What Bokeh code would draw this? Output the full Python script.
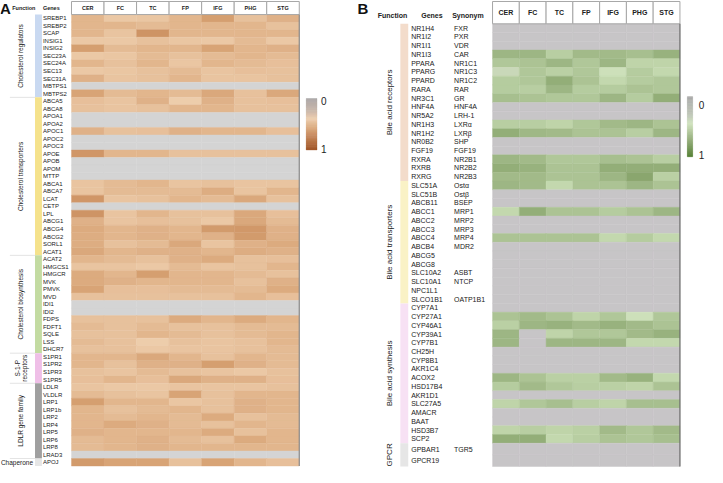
import numpy as np
from bokeh.plotting import figure
from bokeh.models import Range1d, ColumnDataSource, LinearColorMapper
from bokeh.transform import transform
from bokeh.core.properties import value
from bokeh.embed import file_html
from bokeh.resources import INLINE

NA = float("nan")
tissues = ["CER", "FC", "TC", "FP", "IFG", "PHG", "STG"]

# ---------------- Panel A data ----------------
A_group_names = ["Cholesterol regulators", "Cholesterol transporters", "Cholesterol biosynthesis",
                 "S-1-P\nreceptors", "LDLR gene family", "Chaperone"]
A_group_sizes = [11, 21, 13, 4, 10, 1]
A_group_colors = ["#c9d9f1", "#f5e28c", "#c3dba2", "#efbfe7", "#9f9f9f", "#e6e6e6"]
A_genes = ["SREBP1", "SREBP2", "SCAP", "INSIG1", "INSIG2", "SEC23A", "SEC24A", "SEC13", "SEC31A", "MBTPS1", "MBTPS2",
           "ABCA5", "ABCA8", "APOA1", "APOA2", "APOC1", "APOC2", "APOC3", "APOE", "APOB", "APOM", "MTTP",
           "ABCA1", "ABCA7", "LCAT", "CETP", "LPL", "ABCG1", "ABCG4", "ABCG2", "SORL1", "ACAT1",
           "ACAT2", "HMGCS1", "HMGCR", "MVK", "PMVK", "MVD", "IDI1", "IDI2", "FDPS", "FDFT1", "SQLE", "LSS", "DHCR7",
           "S1PR1", "S1PR2", "S1PR3", "S1PR5",
           "LDLR", "VLDLR", "LRP1", "LRP1b", "LRP2", "LRP4", "LRP5", "LRP6", "LRP8", "LRAD3",
           "APOJ"]
N7 = [NA] * 7
A_values = [
    [0.50, 0.42, 0.43, 0.50, 0.60, 0.45, 0.52],
    [0.50, 0.50, 0.48, 0.50, 0.50, 0.50, 0.45],
    [0.50, 0.44, 0.65, 0.50, 0.50, 0.50, 0.50],
    [0.42, 0.42, 0.45, 0.43, 0.42, 0.48, 0.42],
    [0.60, 0.48, 0.50, 0.50, 0.58, 0.50, 0.52],
    [0.42, 0.43, 0.48, 0.45, 0.48, 0.50, 0.48],
    [0.50, 0.45, 0.50, 0.43, 0.50, 0.48, 0.46],
    [0.42, 0.43, 0.45, 0.48, 0.44, 0.46, 0.45],
    [0.52, 0.44, 0.45, 0.50, 0.44, 0.44, 0.45],
    N7,
    [0.58, 0.48, 0.50, 0.48, 0.56, 0.45, 0.56],
    [0.46, 0.44, 0.52, 0.40, 0.52, 0.45, 0.46],
    [0.45, 0.44, 0.45, 0.50, 0.50, 0.45, 0.45],
    N7, N7,
    [0.52, 0.45, 0.46, 0.52, 0.50, 0.50, 0.46],
    N7, N7,
    [0.64, 0.50, 0.50, 0.45, 0.45, 0.45, 0.45],
    N7, N7, N7,
    [0.44, 0.48, 0.50, 0.44, 0.45, 0.44, 0.44],
    [0.44, 0.48, 0.48, 0.48, 0.54, 0.44, 0.50],
    [0.64, 0.44, 0.45, 0.50, 0.48, 0.56, 0.45],
    N7,
    [0.65, 0.44, 0.50, 0.45, 0.45, 0.56, 0.46],
    [0.52, 0.44, 0.46, 0.45, 0.42, 0.56, 0.48],
    [0.55, 0.50, 0.52, 0.50, 0.62, 0.63, 0.52],
    [0.54, 0.50, 0.52, 0.50, 0.52, 0.62, 0.52],
    [0.54, 0.45, 0.48, 0.56, 0.44, 0.52, 0.55],
    [0.56, 0.50, 0.52, 0.52, 0.50, 0.54, 0.52],
    [0.50, 0.48, 0.45, 0.52, 0.55, 0.45, 0.46],
    [0.44, 0.44, 0.42, 0.48, 0.44, 0.45, 0.50],
    [0.55, 0.50, 0.60, 0.50, 0.50, 0.48, 0.45],
    [0.55, 0.52, 0.50, 0.50, 0.50, 0.45, 0.52],
    [0.58, 0.46, 0.46, 0.48, 0.48, 0.48, 0.55],
    [0.45, 0.45, 0.45, 0.45, 0.45, 0.50, 0.46],
    N7, N7,
    [0.45, 0.45, 0.45, 0.55, 0.50, 0.55, 0.50],
    [0.48, 0.45, 0.48, 0.45, 0.45, 0.48, 0.48],
    [0.45, 0.45, 0.50, 0.48, 0.45, 0.48, 0.50],
    [0.48, 0.45, 0.40, 0.45, 0.44, 0.45, 0.50],
    [0.45, 0.45, 0.42, 0.44, 0.44, 0.45, 0.48],
    [0.50, 0.50, 0.56, 0.50, 0.45, 0.50, 0.48],
    [0.50, 0.45, 0.52, 0.52, 0.60, 0.52, 0.48],
    [0.45, 0.44, 0.48, 0.45, 0.44, 0.42, 0.45],
    [0.46, 0.50, 0.46, 0.56, 0.52, 0.52, 0.46],
    [0.44, 0.42, 0.42, 0.44, 0.44, 0.44, 0.45],
    [0.48, 0.45, 0.44, 0.58, 0.45, 0.50, 0.50],
    [0.60, 0.50, 0.50, 0.43, 0.45, 0.52, 0.50],
    [0.50, 0.45, 0.48, 0.50, 0.45, 0.52, 0.50],
    [0.50, 0.48, 0.50, 0.48, 0.55, 0.45, 0.48],
    [0.50, 0.55, 0.52, 0.48, 0.45, 0.50, 0.48],
    [0.52, 0.50, 0.50, 0.50, 0.55, 0.45, 0.50],
    [0.48, 0.50, 0.52, 0.48, 0.45, 0.55, 0.50],
    [0.48, 0.50, 0.52, 0.50, 0.50, 0.50, 0.50],
    N7,
    [0.62, 0.58, 0.58, 0.45, 0.58, 0.50, 0.46],
]

# ---------------- Panel B data ----------------
B_group_names = ["Bile acid receptors", "Bile acid transporters", "Bile acid synthesis", "GPCR"]
B_group_sizes = [18, 14, 16, 2]
B_group_colors = ["#f3dccb", "#faf2c6", "#f7e1f4", "#e6e6e6"]
B_genes = ["NR1H4", "NR1I2", "NR1I1", "NR1I3", "PPARA", "PPARG", "PPARD", "RARA", "NR3C1", "HNF4A", "NR5A2",
           "NR1H3", "NR1H2", "NR0B2", "FGF19", "RXRA", "RXRB", "RXRG",
           "SLC51A", "SLC51B", "ABCB11", "ABCC1", "ABCC2", "ABCC3", "ABCC4", "ABCB4", "ABCG5", "ABCG8",
           "SLC10A2", "SLC10A1", "NPC1L1", "SLCO1B1",
           "CYP7A1", "CYP27A1", "CYP46A1", "CYP39A1", "CYP7B1", "CH25H", "CYP8B1", "AKR1C4", "ACOX2", "HSD17B4",
           "AKR1D1", "SLC27A5", "AMACR", "BAAT", "HSD3B7", "SCP2",
           "GPBAR1", "GPCR19"]
B_synonyms = ["FXR", "PXR", "VDR", "CAR", "NR1C1", "NR1C3", "NR1C2", "RAR", "GR", "HNF4A", "LRH-1",
              "LXRα", "LXRβ", "SHP", "FGF19", "NR2B1", "NR2B2", "NR2B3",
              "Ostα", "Ostβ", "BSEP", "MRP1", "MRP2", "MRP3", "MRP4", "MDR2", "", "",
              "ASBT", "NTCP", "", "OATP1B1",
              "", "", "", "", "", "", "", "", "", "", "", "", "", "", "", "",
              "TGR5", ""]
B_values = [
    N7, N7, N7,
    [0.66, 0.66, 0.55, 0.64, 0.64, 0.62, 0.68],
    [0.58, 0.60, 0.66, 0.58, 0.66, 0.52, 0.52],
    [0.40, 0.58, 0.54, 0.58, 0.46, 0.56, 0.50],
    [0.56, 0.58, 0.70, 0.60, 0.50, 0.56, 0.58],
    [0.56, 0.55, 0.66, 0.56, 0.56, 0.60, 0.58],
    [0.62, 0.60, 0.58, 0.58, 0.66, 0.56, 0.70],
    N7, N7,
    [0.55, 0.55, 0.52, 0.58, 0.64, 0.66, 0.60],
    [0.70, 0.65, 0.64, 0.60, 0.60, 0.55, 0.66],
    N7, N7,
    [0.66, 0.64, 0.58, 0.58, 0.62, 0.60, 0.55],
    [0.70, 0.68, 0.60, 0.60, 0.70, 0.70, 0.70],
    [0.64, 0.64, 0.60, 0.60, 0.66, 0.74, 0.54],
    [0.66, 0.64, 0.50, 0.60, 0.60, 0.66, 0.60],
    N7, N7,
    [0.50, 0.70, 0.60, 0.60, 0.56, 0.60, 0.66],
    N7, N7,
    [0.60, 0.60, 0.60, 0.60, 0.50, 0.56, 0.50],
    N7, N7, N7, N7, N7, N7, N7,
    N7,
    [0.60, 0.64, 0.60, 0.52, 0.58, 0.46, 0.58],
    [0.54, 0.66, 0.68, 0.64, 0.68, 0.64, 0.60],
    [0.66, NA, 0.52, 0.58, 0.58, 0.64, 0.68],
    [0.66, NA, 0.66, 0.66, 0.66, 0.50, 0.50],
    N7, N7, N7,
    [0.66, 0.60, 0.54, 0.54, 0.64, 0.68, 0.50],
    [0.56, 0.64, 0.58, 0.55, 0.54, 0.52, 0.60],
    N7,
    [0.52, 0.58, 0.62, 0.55, 0.52, 0.62, 0.62],
    N7, N7,
    [0.52, 0.55, 0.52, 0.54, 0.64, 0.58, 0.64],
    [0.70, 0.70, 0.50, 0.55, 0.60, 0.58, 0.62],
    N7, N7,
]


def make_palette(stops, n=256):
    out = []
    for k in range(n):
        t = k / (n - 1)
        for (t0, c0), (t1, c1) in zip(stops[:-1], stops[1:]):
            if t0 <= t <= t1:
                f = (t - t0) / (t1 - t0) if t1 > t0 else 0
                a = [int(c0[i:i + 2], 16) for i in (1, 3, 5)]
                b = [int(c1[i:i + 2], 16) for i in (1, 3, 5)]
                out.append("#%02x%02x%02x" % tuple(round(a[i] + (b[i] - a[i]) * f) for i in range(3)))
                break
    return out


pal_A = make_palette([(0.0, "#a7a3a3"), (0.25, "#c9b5a6"), (0.40, "#edcdab"), (0.50, "#e2b68e"),
                      (0.60, "#d59f70"), (0.70, "#c8895a"), (1.0, "#9a4a18")])
pal_B = make_palette([(0.0, "#a8a8a8"), (0.30, "#bcc4b4"), (0.45, "#cfe2bc"), (0.55, "#b8cea2"),
                      (0.65, "#9fb886"), (0.75, "#88a46c"), (1.0, "#4a7828")])
map_A = LinearColorMapper(palette=pal_A, low=0, high=1, nan_color="#d4d4d4")
map_B = LinearColorMapper(palette=pal_B, low=0, high=1, nan_color="#c7c5c7")

FONT = value("Liberation Sans")

p = figure(width=707, height=467, x_range=Range1d(3, 720), y_range=Range1d(482, 1),
           x_axis_location=None, y_axis_location=None, output_backend="svg",
           toolbar_location=None, min_border=0, outline_line_color=None)
p.grid.visible = False


def draw_panel(genes, vals, gnames, gsizes, gcolors, row_h, x0, cw, y0, head_top,
               bar_x, bar_w, gene_x, gene_fs, head_fs, grp_x, grp_fs, synonyms=None, syn_x=None,
               mapper=None, border_color="#888888", sep=False):
    # row edges (per group row heights)
    edges = [y0]
    for gi, s in enumerate(gsizes):
        for _ in range(s):
            edges.append(edges[-1] + row_h[gi])
    edges = np.array(edges)
    centers = (edges[:-1] + edges[1:]) / 2
    heights = edges[1:] - edges[:-1]
    xs, ys, ws, hs, vv = [], [], [], [], []
    for i, row in enumerate(vals):
        for j, v in enumerate(row):
            xs.append(x0 + (j + 0.5) * cw)
            ys.append(centers[i])
            ws.append(cw)
            hs.append(heights[i])
            vv.append(v)
    src = ColumnDataSource(dict(x=xs, y=ys, w=ws, h=hs, v=vv))
    p.rect("x", "y", "w", "h", source=src, fill_color=transform("v", mapper),
           line_color=transform("v", mapper), line_width=0.4)
    # header boxes
    hx = [x0 + (j + 0.5) * cw for j in range(len(tissues))]
    p.rect(hx, (head_top + y0) / 2, cw, y0 - head_top, fill_color="white", line_color="#a6a6a6", line_width=1)
    p.text(hx, [(head_top + y0) / 2] * len(tissues), text=tissues, text_align="center",
           text_baseline="middle", text_font=FONT, text_font_size=head_fs, text_font_style="bold",
           text_color="#222222")
    # right border
    p.segment(x0 + cw * len(tissues), y0, x0 + cw * len(tissues), edges[-1], line_color=border_color, line_width=1.2)
    # gene labels
    p.text([gene_x] * len(genes), centers, text=genes, text_align="left", text_baseline="middle",
           text_font=FONT, text_font_size=gene_fs, text_color="#1a1a1a")
    if synonyms is not None:
        p.text([syn_x] * len(synonyms), centers, text=synonyms, text_align="left", text_baseline="middle",
               text_font=FONT, text_font_size=gene_fs, text_color="#1a1a1a")
    # function bars and labels
    k = 0
    for gi, (name, s, col) in enumerate(zip(gnames, gsizes, gcolors)):
        top, bot = edges[k], edges[k + s]
        p.quad(left=bar_x, right=bar_x + bar_w, top=top, bottom=bot, fill_color=col, line_color=None)
        if sep and k > 0:
            p.segment(grp_x - 11, top, bar_x, top, line_color="#dcdcdc", line_width=0.8)
        mid = (top + bot) / 2
        if s == 1:
            p.text([bar_x - 2], [mid], text=[name], text_align="right", text_baseline="middle",
                   text_font=FONT, text_font_size=grp_fs, text_color="#1a1a1a")
        else:
            lines = name.split("\n")
            nl = len(lines)
            for li, ln in enumerate(lines):
                off = (li - (nl - 1) / 2) * 6.8
                p.text([grp_x + off], [mid], text=[ln], angle=np.pi / 2, text_align="center",
                       text_baseline="middle", text_font=FONT, text_font_size=grp_fs, text_color="#1a1a1a")
        k += s
    return edges


draw_panel(A_genes, A_values, A_group_names, A_group_sizes, A_group_colors, [7.75] * 6,
           x0=75, cw=33, y0=15.5, head_top=2, bar_x=38, bar_w=7, gene_x=46, gene_fs="6px", head_fs="5.5px",
           grp_x=23.5, grp_fs="6.5px", mapper=map_A, border_color="#8a8a8a", sep=True)
draw_panel(B_genes, B_values, B_group_names, B_group_sizes, B_group_colors, [9.0, 9.0, 9.0, 12.0],
           x0=502, cw=27.15, y0=25, head_top=2, bar_x=408.5, bar_w=8, gene_x=419.5, gene_fs="7px",
           head_fs="7px", grp_x=398, grp_fs="8px", synonyms=B_synonyms, syn_x=463, mapper=map_B,
           border_color="#6a6a6a")

# header labels
p.text([26, 46], [9, 9], text=["Function", "Genes"], text_align="left", text_baseline="middle",
       text_font=FONT, text_font_size="5.5px", text_font_style="bold", text_color="#222222",
       x_offset=[-11, 0])
p.text([400.5, 440.5, 477], [16, 16, 16], text=["Function", "Genes", "Synonym"], text_align="center",
       text_baseline="middle", text_font=FONT, text_font_size="7px", text_font_style="bold", text_color="#222222")
# panel letters
p.text([2.5, 365], [9, 9], text=["A", "B"], text_align="left", text_baseline="middle", text_font=FONT,
       text_font_size="15px", text_font_style="bold", text_color="#111111")

# colour bars
cb_steps = np.linspace(0, 1, 81)


def colorbar(x_left, x_right, y_top, y_bot, pal, lab_x, lab_y0, lab_y1):
    n = len(cb_steps) - 1
    tops = y_top + (y_bot - y_top) * cb_steps[:-1]
    bots = y_top + (y_bot - y_top) * cb_steps[1:]
    cols = [pal[int(round(t * (len(pal) - 1)))] for t in (cb_steps[:-1] + cb_steps[1:]) / 2]
    p.quad(left=x_left, right=x_right, top=tops, bottom=bots, fill_color=cols, line_color=cols, line_width=0.3)
    p.text([lab_x, lab_x], [lab_y0, lab_y1], text=["0", "1"], text_align="left", text_baseline="middle",
           text_font=FONT, text_font_size="10px", text_color="#222222")


colorbar(313, 324, 102, 155, pal_A, 328, 105, 154)
colorbar(699.5, 705, 100, 162, pal_B, 711, 109, 160)

open("out.html", "w").write(file_html(p, INLINE))
